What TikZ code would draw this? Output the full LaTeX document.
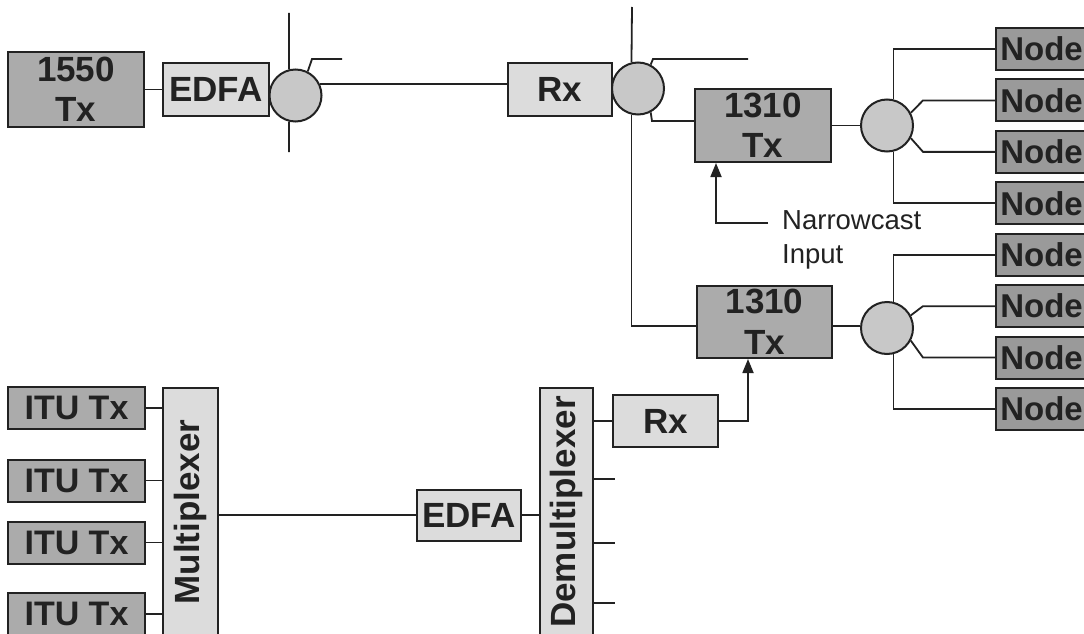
\documentclass[tikz,border=0pt]{standalone}
\usepackage{fontspec}
\usepackage{graphicx}
\setmainfont{Liberation Sans}
\usepackage{tikz}
\usetikzlibrary{positioning,arrows.meta,calc}
\definecolor{ink}{HTML}{222222}
\definecolor{dark}{HTML}{ABABAB}
\definecolor{nodec}{HTML}{9A9A9A}
\definecolor{lite}{HTML}{DCDCDC}
\definecolor{spfill}{HTML}{C8C8C8}
\newcommand{\rot}[1]{\rotatebox{90}{#1}}
\tikzset{
  dk/.style={draw=ink,fill=dark,line width=2pt,inner sep=0pt,align=center,text=ink,font=\fontsize{35}{40.5}\selectfont\bfseries},
  lt/.style={dk,fill=lite},
  nd/.style={dk,fill=nodec,minimum width=91,minimum height=42,font=\fontsize{33}{40}\selectfont\bfseries},
  spl/.style={circle,draw=ink,fill=spfill,line width=2pt,minimum size=52,inner sep=0pt},
  ln/.style={ink,line width=1.8pt},
  arr/.style={ln,-{Triangle[length=14pt,width=11pt]}},
  note/.style={font=\fontsize{27.5}{34}\selectfont,text=ink,align=left,inner sep=0pt},
}

\begin{document}
\begin{tikzpicture}[x=1pt,y=-1pt]
\useasboundingbox (0,0) rectangle (1084,634);
\clip (0,0) rectangle (1084,634);
\fill[white] (0,0) rectangle (1084,634);
\node[dk,minimum width=136,minimum height=74] (tx1550) at (76,89.5) {1550\\Tx};
\node[lt,minimum width=106,minimum height=52] (e1) at (216,89.5) {EDFA};
\node[spl] (s1) at (295.5,95.5) {};
\node[lt,minimum width=104,minimum height=53] (rx1) at (560,89.5) {Rx};
\node[spl] (s2) at (638,88.5) {};
\node[dk,minimum width=136,minimum height=73] (txa) at (763,125.5) {1310\\Tx};
\node[spl] (s3) at (887,125.5) {};
\node[dk,minimum width=135,minimum height=72] (txb) at (764.5,322) {1310\\Tx};
\node[spl] (s4) at (887,328) {};
\foreach \i in {1,...,8}
  \node[nd] (n\i) at (1041.5,{49+51.43*(\i-1)}) {Node};
\node[note,anchor=north west] (nc) at (782,210) {Narrowcast\\Input};
\coordinate (ncin) at (768,223);
\node[lt,minimum width=105,minimum height=52] (rx2) at (665.5,421) {Rx};
\node[lt,minimum width=53,minimum height=248] (dmx) at (566.5,512) {\rot{Demultiplexer}};
\node[lt,minimum width=104,minimum height=51] (e2) at (469,515) {EDFA};
\node[lt,minimum width=55,minimum height=248] (mux) at (190.5,512) {\rot{Multiplexer}};
\foreach \i/\y in {1/408,2/480.5,3/542.5,4/614}
  \node[dk,minimum width=137,minimum height=42,font=\fontsize{34}{40}\selectfont\bfseries] (itu\i) at (76.5,\y) {ITU Tx};
\coordinate (v1t) at (289,13);
\coordinate (v1b) at (289,152);
\coordinate (u1) at (342,59);
\coordinate (v2t) at (632,7);
\coordinate (u2) at (748,59);
\draw[ln] (tx1550.east) -- (e1.west);
\draw[ln] (s1.104) -- (v1t);
\draw[ln] (s1.256) -- (v1b);
\draw[ln] (s1.63) -- ([xshift=-30pt]u1) -- (u1);
\draw[ln] (s1.26) -- (s1.26 -| rx1.west);
\draw[ln] (s2.104) -- (v2t);
\draw[ln] (s2.256) |- ([yshift=-4pt]txb.west);
\draw[ln] (s2.62) -- ([xshift=-95pt]u2) -- (u2);
\draw[ln] (s2.-62) -- ([xshift=-42pt,yshift=4.5pt]txa.west) -- ([yshift=4.5pt]txa.west);
\draw[ln] (txa.east) -- (s3.west);
\draw[ln] ([yshift=-4pt]txb.east) -- ([yshift=-4pt]txb.east -| s4.west);
\foreach \s/\a/\b/\c/\d in {s3/n1/n2/n3/n4,s4/n5/n6/n7/n8}{
  \draw[ln] (\s.76) |- (\a.west);
  \draw[ln] (\s.28) -- ([xshift=-72pt]\b.west) -- (\b.west);
  \draw[ln] (\s.-28) -- ([xshift=-72pt]\c.west) -- (\c.west);
  \draw[ln] (\s.-76) |- (\d.west);
}
\draw[arr] (ncin) -| ([xshift=-47pt]txa.south);
\draw[arr] (rx2.east) -| ([xshift=-16.5pt]txb.south);
\draw[ln] (rx2.west -| dmx.east) -- (rx2.west);
\foreach \y in {479,543,603}
  \draw[ln] (dmx.east |- 0,\y) -- (615,\y);
\draw[ln] (e2.east) -- (e2.east -| dmx.west);
\draw[ln] (mux.east |- e2.west) -- (e2.west);
\foreach \i in {1,...,4}
  \draw[ln] (itu\i.east) -- (itu\i.east -| mux.west);
\end{tikzpicture}
\end{document}
